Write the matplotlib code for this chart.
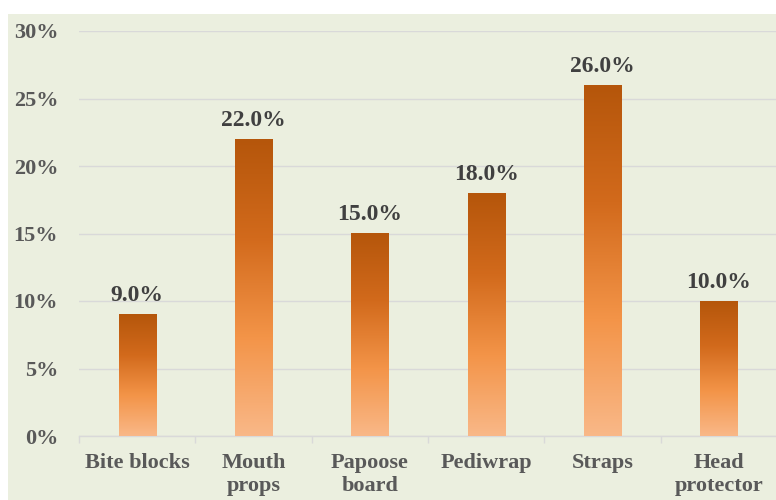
import matplotlib
matplotlib.use("Agg")
import matplotlib.pyplot as plt
import numpy as np
from matplotlib.colors import LinearSegmentedColormap
from matplotlib.patches import Rectangle

# datos
categorias = ["Bite blocks", "Mouth\nprops", "Papoose\nboard", "Pediwrap", "Straps", "Head\nprotector"]
valores = [9.0, 22.0, 15.0, 18.0, 26.0, 10.0]
yticks = [0, 5, 10, 15, 20, 25, 30]

plt.rcParams['font.family'] = ['Liberation Serif', 'DejaVu Serif']
plt.rcParams['font.weight'] = 'bold'

fig = plt.figure(figsize=(7.76, 5.0), dpi=100)
fig.patch.set_facecolor('white')
fondo = '#EBEFDF'
fig.patches.append(Rectangle((8 / 776, 0), 1, 1 - 14 / 500, transform=fig.transFigure,
                             facecolor=fondo, edgecolor='none', zorder=-10))

ax = fig.add_axes([79 / 776, 64 / 500, 698 / 776, 405 / 500])
ax.set_facecolor(fondo)
ax.patch.set_alpha(0)

cmap = LinearSegmentedColormap.from_list('naranja', ['#F9B888', '#F39448', '#D26A1C', '#B5560B'])
grad = np.linspace(0, 1, 256).reshape(-1, 1)

x = np.arange(len(categorias))
ancho = 0.32
barras = ax.bar(x, valores, width=ancho, color='none', edgecolor='none', zorder=3)
for b, v in zip(barras, valores):
    x0 = b.get_x()
    ax.imshow(grad, cmap=cmap, origin='lower', aspect='auto',
              extent=[x0, x0 + ancho, 0, v], zorder=3, interpolation='bilinear')
    ax.text(b.get_x() + ancho / 2, v + 0.6, f"{v:.1f}%", ha='center', va='bottom',
            fontsize=17, fontweight='bold', color='#404040', zorder=4)

ax.set_xlim(-0.5, len(categorias) - 0.5)
ax.set_ylim(0, 30)
ax.set_yticks(yticks)
ax.set_yticklabels([f"{t}%" for t in yticks])
ax.set_xticks(x)
ax.set_xticklabels(categorias, linespacing=1.25)
ax.set_xticks(np.arange(len(categorias) + 1) - 0.5, minor=True)

ax.grid(axis='y', color='#D9D9D9', linewidth=1, zorder=0)
for s in ['top', 'right', 'left']:
    ax.spines[s].set_visible(False)
ax.spines['bottom'].set_color('#D9D9D9')
ax.spines['bottom'].set_linewidth(1)

ax.tick_params(axis='y', length=0, pad=15, labelsize=16, labelcolor='#595959')
ax.tick_params(axis='x', which='major', length=0, pad=12, labelsize=16, labelcolor='#595959')
ax.tick_params(axis='x', which='minor', length=5, color='#D9D9D9', width=1)
for lab in ax.get_xticklabels() + ax.get_yticklabels():
    lab.set_fontweight('bold')
for lab in ax.get_xticklabels():
    lab.set_verticalalignment('top')

fig.savefig('out.png', dpi=100)
